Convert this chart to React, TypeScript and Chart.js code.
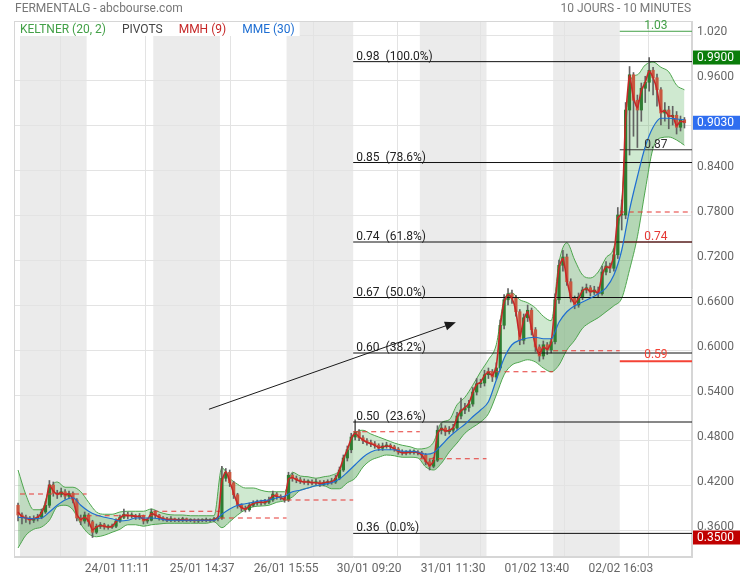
import React, { useEffect, useRef } from "react";
import { Chart, registerables } from "chart.js";

Chart.register(...registerables);

// ---------- data ----------
const TITLE = "FERMENTALG - abcbourse.com";
const PERIOD = "10 JOURS - 10 MINUTES";
const LEGEND_ITEMS = ["KELTNER (20, 2)", "PIVOTS", "MMH (9)", "MME (30)"];

const BARS_PER_DAY = 17; // half-hour candles per session
const DAY_COUNT = 10;
const X_MIN = -1.53;
const X_MAX = 171.43;
const Y_MIN = 0.324;
const Y_MAX = 1.0387;

const X_TICKS = [21.2, 42.9, 64.3, 85.5, 106.9, 128.3, 149.7];
const X_TICK_LABELS = ["24/01 11:11", "25/01 14:37", "26/01 15:55", "30/01 09:20", "31/01 11:30", "01/02 13:40", "02/02 16:03"];
const Y_TICKS = [0.36, 0.42, 0.48, 0.54, 0.6, 0.66, 0.72, 0.78, 0.84, 0.9, 0.96, 1.02];
const Y_TICK_LABELS = ["0.3600", "0.4200", "0.4800", "0.5400", "0.6000", "0.6600", "0.7200", "0.7800", "0.8400", "0.9000", "0.9600", "1.020"];

const OPEN = [0.393,0.380,0.377,0.376,0.373,0.375,0.377,0.384,0.393,0.420,0.409,0.407,0.411,0.405,0.409,0.400,0.376,0.372,
  0.380,0.371,0.357,0.365,0.367,0.364,0.364,0.365,0.372,0.377,0.381,0.379,0.379,0.377,0.379,0.372,0.373,
  0.384,0.380,0.376,0.375,0.373,0.375,0.373,0.373,0.375,0.373,0.373,0.372,0.373,0.373,0.373,0.373,0.375,
  0.376,0.429,0.437,0.423,0.407,0.393,0.389,0.387,0.393,0.396,0.397,0.396,0.397,0.400,0.408,0.405,0.403,
  0.400,0.433,0.429,0.427,0.425,0.424,0.424,0.423,0.424,0.421,0.423,0.424,0.424,0.429,0.440,0.456,0.467,
  0.484,0.491,0.483,0.479,0.477,0.475,0.473,0.469,0.472,0.473,0.471,0.468,0.464,0.463,0.463,0.464,0.464,
  0.463,0.460,0.451,0.445,0.453,0.493,0.496,0.491,0.493,0.496,0.512,0.520,0.523,0.528,0.544,0.555,0.556,
  0.567,0.571,0.564,0.576,0.633,0.667,0.675,0.669,0.651,0.613,0.643,0.653,0.627,0.604,0.592,0.607,0.600,
  0.611,0.667,0.713,0.724,0.691,0.669,0.660,0.671,0.680,0.683,0.677,0.680,0.675,0.704,0.712,0.709,0.727,
  0.780,0.780,0.920,0.967,0.933,0.920,0.949,0.957,0.973,0.963,0.947,0.916,0.920,0.911,0.913,0.897,0.907];

const HIGH = [0.396,0.383,0.380,0.378,0.379,0.381,0.388,0.398,0.426,0.424,0.413,0.416,0.414,0.412,0.411,0.402,0.380,0.384,
  0.382,0.373,0.368,0.370,0.369,0.367,0.368,0.375,0.380,0.388,0.384,0.383,0.381,0.382,0.380,0.376,0.388,
  0.386,0.381,0.378,0.377,0.378,0.376,0.376,0.377,0.376,0.375,0.375,0.375,0.375,0.376,0.375,0.377,0.378,
  0.445,0.442,0.440,0.425,0.409,0.395,0.392,0.396,0.399,0.400,0.400,0.401,0.404,0.412,0.410,0.407,0.405,
  0.437,0.436,0.432,0.430,0.428,0.427,0.427,0.428,0.426,0.426,0.427,0.429,0.433,0.444,0.460,0.472,0.489,
  0.507,0.494,0.486,0.482,0.480,0.478,0.475,0.476,0.477,0.475,0.473,0.470,0.467,0.466,0.467,0.467,0.466,
  0.465,0.462,0.454,0.457,0.499,0.502,0.499,0.498,0.501,0.517,0.536,0.529,0.533,0.550,0.562,0.561,0.573,
  0.576,0.574,0.583,0.640,0.674,0.682,0.680,0.673,0.654,0.648,0.660,0.656,0.630,0.607,0.612,0.610,0.615,
  0.675,0.720,0.733,0.728,0.695,0.672,0.676,0.684,0.688,0.686,0.685,0.684,0.712,0.718,0.716,0.735,0.790,
  0.800,0.930,0.978,0.970,0.940,0.956,0.965,0.990,0.977,0.968,0.950,0.930,0.925,0.925,0.918,0.912,0.910];

const LOW = [0.372,0.368,0.370,0.368,0.370,0.372,0.375,0.382,0.390,0.405,0.402,0.404,0.401,0.402,0.396,0.372,0.367,0.369,
  0.365,0.350,0.355,0.362,0.361,0.361,0.362,0.363,0.370,0.375,0.375,0.376,0.374,0.374,0.368,0.369,0.372,
  0.376,0.373,0.372,0.371,0.371,0.371,0.371,0.371,0.371,0.371,0.370,0.370,0.371,0.371,0.371,0.371,0.372,
  0.374,0.425,0.418,0.402,0.389,0.385,0.384,0.385,0.391,0.393,0.393,0.394,0.395,0.398,0.401,0.400,0.397,
  0.398,0.425,0.423,0.422,0.421,0.420,0.420,0.420,0.418,0.419,0.420,0.421,0.422,0.427,0.438,0.452,0.463,
  0.480,0.479,0.475,0.473,0.471,0.469,0.466,0.466,0.469,0.467,0.465,0.461,0.460,0.460,0.461,0.461,0.460,
  0.456,0.447,0.440,0.443,0.451,0.488,0.486,0.488,0.490,0.494,0.508,0.515,0.518,0.525,0.540,0.550,0.552,
  0.562,0.558,0.561,0.573,0.628,0.660,0.662,0.645,0.607,0.608,0.638,0.620,0.598,0.585,0.588,0.594,0.596,
  0.608,0.662,0.705,0.686,0.664,0.655,0.657,0.667,0.676,0.672,0.674,0.670,0.673,0.700,0.703,0.705,0.722,
  0.760,0.775,0.860,0.885,0.870,0.905,0.930,0.945,0.940,0.925,0.900,0.905,0.895,0.900,0.888,0.892,0.896];

const CLOSE = [0.380,0.377,0.376,0.373,0.375,0.377,0.384,0.393,0.420,0.409,0.407,0.411,0.405,0.409,0.400,0.376,0.372,0.380,
  0.371,0.357,0.365,0.367,0.364,0.364,0.365,0.372,0.377,0.381,0.379,0.379,0.377,0.379,0.372,0.373,0.384,
  0.380,0.376,0.375,0.373,0.375,0.373,0.373,0.375,0.373,0.373,0.372,0.373,0.373,0.373,0.373,0.375,0.376,
  0.429,0.437,0.423,0.407,0.393,0.389,0.387,0.393,0.396,0.397,0.396,0.397,0.400,0.408,0.405,0.403,0.400,
  0.433,0.429,0.427,0.425,0.424,0.424,0.423,0.424,0.421,0.423,0.424,0.424,0.429,0.440,0.456,0.467,0.484,
  0.491,0.483,0.479,0.477,0.475,0.473,0.469,0.472,0.473,0.471,0.468,0.464,0.463,0.463,0.464,0.464,0.463,
  0.460,0.451,0.445,0.453,0.493,0.496,0.491,0.493,0.496,0.512,0.520,0.523,0.528,0.544,0.555,0.556,0.567,
  0.571,0.564,0.576,0.633,0.667,0.675,0.669,0.651,0.613,0.643,0.653,0.627,0.604,0.592,0.607,0.600,0.611,
  0.667,0.713,0.724,0.691,0.669,0.660,0.671,0.680,0.683,0.677,0.680,0.675,0.704,0.712,0.709,0.727,0.780,
  0.780,0.920,0.967,0.933,0.920,0.949,0.957,0.973,0.963,0.947,0.916,0.920,0.911,0.913,0.897,0.907,0.903];

const MMH = [0.384,0.378,0.376,0.374,0.375,0.377,0.383,0.395,0.420,0.412,0.408,0.410,0.407,0.408,0.401,0.381,0.374,0.377,
  0.372,0.360,0.364,0.366,0.365,0.364,0.365,0.371,0.376,0.380,0.379,0.379,0.378,0.378,0.374,0.374,0.382,
  0.380,0.377,0.375,0.374,0.374,0.374,0.373,0.374,0.373,0.373,0.373,0.373,0.373,0.373,0.373,0.374,0.377,
  0.425,0.438,0.425,0.409,0.395,0.390,0.388,0.392,0.395,0.397,0.397,0.397,0.400,0.406,0.405,0.403,0.401,
  0.428,0.430,0.427,0.425,0.424,0.424,0.423,0.423,0.422,0.423,0.424,0.424,0.429,0.440,0.455,0.467,0.482,
  0.489,0.484,0.480,0.477,0.475,0.473,0.470,0.471,0.472,0.471,0.468,0.465,0.463,0.463,0.464,0.464,0.463,
  0.460,0.452,0.446,0.452,0.488,0.495,0.492,0.493,0.496,0.510,0.519,0.523,0.529,0.543,0.554,0.557,0.566,
  0.570,0.566,0.578,0.630,0.664,0.674,0.669,0.652,0.618,0.640,0.651,0.629,0.606,0.594,0.604,0.601,0.610,
  0.662,0.710,0.722,0.694,0.671,0.662,0.669,0.679,0.682,0.678,0.679,0.676,0.700,0.711,0.710,0.726,0.776,
  0.782,0.910,0.966,0.936,0.923,0.946,0.957,0.972,0.963,0.947,0.918,0.919,0.912,0.912,0.899,0.905,0.904];

// Keltner channel and MME(30), one value every two candles
const KELTNER_UPPER = [0.440,0.407,0.387,0.387,0.415,0.424,0.417,0.417,0.411,0.397,
  0.384,0.381,0.381,0.384,0.385,0.385,0.385,0.388,0.384,0.381,
  0.380,0.380,0.379,0.379,0.379,0.379,0.443,0.429,0.421,0.416,
  0.416,0.413,0.411,0.411,0.411,0.437,0.432,0.431,0.429,0.431,
  0.433,0.440,0.467,0.489,0.493,0.488,0.484,0.480,0.476,0.473,
  0.471,0.468,0.469,0.477,0.503,0.507,0.527,0.537,0.553,0.571,
  0.587,0.607,0.667,0.676,0.667,0.663,0.656,0.645,0.639,0.717,
  0.743,0.720,0.700,0.696,0.704,0.723,0.737,0.800,0.957,0.967,
  0.980,0.984,0.977,0.971,0.953,0.947];
const KELTNER_LOWER = [0.336,0.353,0.361,0.364,0.373,0.391,0.393,0.387,0.368,0.355,
  0.351,0.353,0.357,0.361,0.367,0.367,0.365,0.367,0.368,0.369,
  0.369,0.369,0.369,0.369,0.369,0.371,0.363,0.371,0.380,0.387,
  0.391,0.392,0.393,0.397,0.399,0.404,0.413,0.416,0.419,0.419,
  0.415,0.415,0.423,0.429,0.444,0.453,0.457,0.460,0.459,0.457,
  0.457,0.456,0.444,0.440,0.449,0.464,0.476,0.489,0.497,0.504,
  0.515,0.540,0.567,0.580,0.584,0.587,0.584,0.576,0.571,0.580,
  0.600,0.613,0.629,0.637,0.643,0.651,0.659,0.669,0.707,0.751,
  0.813,0.869,0.883,0.884,0.880,0.873];
const MME = [0.377,0.376,0.375,0.376,0.384,0.393,0.400,0.403,0.393,0.385,
  0.380,0.377,0.375,0.372,0.373,0.376,0.376,0.376,0.375,0.373,
  0.373,0.373,0.373,0.373,0.373,0.373,0.381,0.388,0.393,0.395,
  0.397,0.399,0.400,0.403,0.405,0.411,0.413,0.416,0.419,0.421,
  0.423,0.428,0.437,0.447,0.457,0.464,0.467,0.467,0.467,0.465,
  0.465,0.464,0.461,0.463,0.473,0.484,0.493,0.501,0.511,0.520,
  0.531,0.560,0.589,0.607,0.613,0.616,0.617,0.615,0.615,0.637,
  0.651,0.659,0.664,0.669,0.675,0.683,0.700,0.733,0.787,0.831,
  0.871,0.897,0.909,0.909,0.908,0.907];

const FIB_START = 85; // first candle slot of 30/01
const FIB_VALUES = [0.3555, 0.504, 0.596, 0.670, 0.744, 0.850, 0.9845];
const FIB_LABELS = ["0.36  (0.0%)", "0.50  (23.6%)", "0.60  (38.2%)", "0.67  (50.0%)", "0.74  (61.8%)", "0.85  (78.6%)", "0.98  (100.0%)"];

const PIVOT_DAILY = [0.408, 0.379, 0.385, 0.376, 0.400, 0.491, 0.455, 0.571, 0.599, 0.784];

const TODAY_START = 153;
const TODAY_LEVELS = [1.025, 0.867, 0.744, 0.585];
const TODAY_LABELS = ["1.03", "0.87", "0.74", "0.59"];

const VALUE_BOXES = [0.99, 0.903, 0.35];
const VALUE_BOX_LABELS = ["0.9900", "0.9030", "0.3500"];

const ARROW_FROM = { x: 48.2, y: 0.521 };
const ARROW_TO = { x: 111.2, y: 0.637 };

// ---------- styles ----------
const FAMILY = 'Roboto, "Noto Sans", "DejaVu Sans", sans-serif';
const FONT = "12px " + FAMILY;
const LEGEND_COLORS = ["#43a047", "#444444", "#c62828", "#1e6ed2"];
const TODAY_COLORS = ["#43a047", "#333333", "#e53935", "#f44336"];
const TODAY_WIDTHS = [1, 1, 1, 2];
const BOX_COLORS = ["#0a7d0a", "#2f6ef0", "#c00000"];

const candleX = (i: number) => i - 0.5;
const bandX = (j: number) => 2 * j - 0.5;

const overlayPlugin = {
  id: "overlay",
  beforeDraw(chart: any) {
    const { ctx, chartArea: a } = chart;
    const xs = chart.scales.x;
    ctx.save();
    ctx.fillStyle = "#ebebeb";
    for (let d = 0; d < DAY_COUNT; d += 2) {
      const x0 = xs.getPixelForValue(d * BARS_PER_DAY);
      const x1 = xs.getPixelForValue((d + 1) * BARS_PER_DAY);
      ctx.fillRect(x0, a.top, x1 - x0, a.bottom - a.top);
    }
    ctx.restore();
  },
  beforeDatasetsDraw(chart: any) {
    const { ctx, chartArea: a } = chart;
    ctx.save();
    ctx.strokeStyle = "#d6d6d6";
    ctx.lineWidth = 1;
    ctx.strokeRect(a.left + 0.5, a.top + 0.5, a.right - a.left - 1, a.bottom - a.top - 1);
    ctx.restore();
  },
  afterDatasetsDraw(chart: any) {
    const { ctx, chartArea: a } = chart;
    const xs = chart.scales.x;
    const ys = chart.scales.y;
    ctx.save();
    ctx.font = FONT;
    ctx.textBaseline = "alphabetic";
    // fib labels
    ctx.fillStyle = "#222";
    ctx.textAlign = "left";
    const fx = xs.getPixelForValue(FIB_START) + 3;
    FIB_VALUES.forEach((v, k) => ctx.fillText(FIB_LABELS[k], fx, ys.getPixelForValue(v) - 2));
    // today's pivot labels
    ctx.textAlign = "center";
    const cx = (xs.getPixelForValue(TODAY_START) + a.right) / 2;
    TODAY_LEVELS.forEach((v, k) => {
      ctx.fillStyle = TODAY_COLORS[k];
      ctx.fillText(TODAY_LABELS[k], cx, ys.getPixelForValue(v) - 1 - TODAY_WIDTHS[k]);
    });
    // arrow
    const x0 = xs.getPixelForValue(ARROW_FROM.x), y0 = ys.getPixelForValue(ARROW_FROM.y);
    const x1 = xs.getPixelForValue(ARROW_TO.x), y1 = ys.getPixelForValue(ARROW_TO.y);
    const ang = Math.atan2(y1 - y0, x1 - x0);
    ctx.strokeStyle = "#1a1a1a";
    ctx.fillStyle = "#1a1a1a";
    ctx.lineWidth = 1;
    ctx.beginPath();
    ctx.moveTo(x0, y0);
    ctx.lineTo(x1 - 8 * Math.cos(ang), y1 - 8 * Math.sin(ang));
    ctx.stroke();
    ctx.beginPath();
    ctx.moveTo(x1, y1);
    ctx.lineTo(x1 - 11 * Math.cos(ang) + 4.5 * Math.sin(ang), y1 - 11 * Math.sin(ang) - 4.5 * Math.cos(ang));
    ctx.lineTo(x1 - 11 * Math.cos(ang) - 4.5 * Math.sin(ang), y1 - 11 * Math.sin(ang) + 4.5 * Math.cos(ang));
    ctx.closePath();
    ctx.fill();
    ctx.restore();
  },
  afterDraw(chart: any) {
    const { ctx, chartArea: a } = chart;
    const ys = chart.scales.y;
    ctx.save();
    ctx.font = FONT;
    ctx.textBaseline = "middle";
    // title
    ctx.fillStyle = "#777";
    ctx.textAlign = "left";
    ctx.fillText(TITLE, 15, 9);
    ctx.textAlign = "right";
    ctx.fillText(PERIOD, a.right - 1, 9);
    // legend
    ctx.textAlign = "left";
    let lx = a.left + 6;
    const widths = LEGEND_ITEMS.map((t) => ctx.measureText(t).width);
    const total = widths.reduce((s, w) => s + w, 0) + 16 * (LEGEND_ITEMS.length - 1);
    ctx.fillStyle = "#fff";
    ctx.fillRect(a.left + 1, a.top + 1, total + 10, 14);
    LEGEND_ITEMS.forEach((t, k) => {
      ctx.fillStyle = LEGEND_COLORS[k];
      ctx.fillText(t, lx, a.top + 8.5);
      lx += widths[k] + 16;
    });
    // value boxes on the price axis
    VALUE_BOXES.forEach((v, k) => {
      const py = ys.getPixelForValue(v);
      ctx.fillStyle = BOX_COLORS[k];
      ctx.fillRect(a.right + 1, py - 7, chart.width - a.right - 1, 14);
      ctx.fillStyle = "#fff";
      ctx.fillText(VALUE_BOX_LABELS[k], a.right + 5, py + 0.5);
    });
    ctx.restore();
  },
};

export default function App() {
  const ref = useRef<HTMLCanvasElement | null>(null);
  useEffect(() => {
    document.body.style.margin = "0";
    const canvas = ref.current;
    if (!canvas) return;

    const wicks = HIGH.map((h, i) => ({ x: candleX(i), y: [LOW[i], h] }));
    const bodies = CLOSE.map((c, i) => ({ x: candleX(i), y: [OPEN[i], c] }));
    const bodyColors = CLOSE.map((c, i) => (c >= OPEN[i] ? "#2e7d32" : "#c9573f"));

    const fibSets = FIB_VALUES.map((v) => ({
      type: "line",
      data: [{ x: FIB_START, y: v }, { x: X_MAX, y: v }],
      borderColor: "#111",
      borderWidth: 1,
      pointRadius: 0,
      fill: false,
      order: 4,
    }));

    const todaySets = TODAY_LEVELS.map((v, k) => ({
      type: "line",
      data: [{ x: TODAY_START, y: v }, { x: X_MAX, y: v }],
      borderColor: TODAY_COLORS[k],
      borderWidth: TODAY_WIDTHS[k],
      pointRadius: 0,
      fill: false,
      order: 5,
    }));

    const pivotPts: any[] = [];
    PIVOT_DAILY.forEach((v, d) => {
      const end = d === DAY_COUNT - 1 ? X_MAX : (d + 1) * BARS_PER_DAY;
      pivotPts.push({ x: d * BARS_PER_DAY, y: v }, { x: end, y: v }, { x: end, y: null });
    });

    const chart = new Chart(canvas, {
      type: "line",
      data: {
        datasets: [
          {
            type: "line",
            label: "Keltner haut",
            data: KELTNER_UPPER.map((v, j) => ({ x: bandX(j), y: v })),
            borderColor: "#4ea64e",
            borderWidth: 1,
            pointRadius: 0,
            cubicInterpolationMode: "monotone",
            fill: { target: 1 },
            backgroundColor: "rgba(76,175,80,0.27)",
            order: 9,
          },
          {
            type: "line",
            label: "Keltner bas",
            data: KELTNER_LOWER.map((v, j) => ({ x: bandX(j), y: v })),
            borderColor: "#4ea64e",
            borderWidth: 1,
            pointRadius: 0,
            cubicInterpolationMode: "monotone",
            fill: false,
            order: 8,
          },
          {
            type: "bar",
            label: "mèches",
            data: wicks,
            backgroundColor: "#626262",
            barThickness: 1,
            grouped: false,
            order: 7,
          },
          {
            type: "bar",
            label: "corps",
            data: bodies,
            backgroundColor: bodyColors,
            barThickness: 2.6,
            minBarLength: 1,
            grouped: false,
            order: 6,
          },
          ...todaySets,
          ...fibSets,
          {
            type: "line",
            label: "Pivots",
            data: pivotPts,
            borderColor: "#e53935",
            borderWidth: 1.1,
            borderDash: [5, 4],
            pointRadius: 0,
            spanGaps: false,
            fill: false,
            order: 3,
          },
          {
            type: "line",
            label: "MMH (9)",
            data: MMH.map((v, i) => ({ x: candleX(i), y: v })),
            borderColor: "#c62828",
            borderWidth: 1.6,
            pointRadius: 0,
            tension: 0.2,
            fill: false,
            order: 2,
          },
          {
            type: "line",
            label: "MME (30)",
            data: MME.map((v, j) => ({ x: bandX(j), y: v })),
            borderColor: "#1e6ed2",
            borderWidth: 1.2,
            pointRadius: 0,
            cubicInterpolationMode: "monotone",
            fill: { target: 1 },
            backgroundColor: "rgba(46,125,50,0.17)",
            order: 1,
          },
        ] as any,
      },
      options: {
        animation: false,
        responsive: true,
        maintainAspectRatio: false,
        events: [],
        layout: { padding: { left: 14, top: 21, right: 0, bottom: 0 } },
        plugins: {
          legend: { display: false },
          tooltip: { enabled: false },
          filler: { drawTime: "beforeDatasetsDraw", propagate: false },
        } as any,
        scales: {
          x: {
            type: "linear",
            min: X_MIN,
            max: X_MAX,
            offset: false,
            afterBuildTicks: (s: any) => {
              s.ticks = X_TICKS.map((v) => ({ value: v }));
            },
            afterFit: (s: any) => {
              s.height = 23;
            },
            grid: { color: "#e3e3e3", drawTicks: false },
            border: { color: "#d6d6d6" },
            ticks: {
              autoSkip: false,
              maxRotation: 0,
              padding: 5,
              labelOffset: 14,
              color: "#666",
              font: { size: 12, family: FAMILY },
              callback: (_v: any, i: number) => X_TICK_LABELS[i],
            },
          },
          y: {
            type: "linear",
            position: "right",
            min: Y_MIN,
            max: Y_MAX,
            afterBuildTicks: (s: any) => {
              s.ticks = Y_TICKS.map((v) => ({ value: v }));
            },
            afterFit: (s: any) => {
              s.width = 48;
            },
            grid: { color: "#e3e3e3", drawTicks: false },
            border: { color: "#d6d6d6" },
            ticks: {
              autoSkip: false,
              padding: 5,
              labelOffset: -3,
              color: "#666",
              font: { size: 12, family: FAMILY },
              callback: (_v: any, i: number) => Y_TICK_LABELS[i],
            },
          },
        } as any,
      },
      plugins: [overlayPlugin],
    } as any);

    return () => chart.destroy();
  }, []);

  return (
    <div style={{ width: 740, height: 580, position: "relative" }}>
      <canvas ref={ref} />
    </div>
  );
}
